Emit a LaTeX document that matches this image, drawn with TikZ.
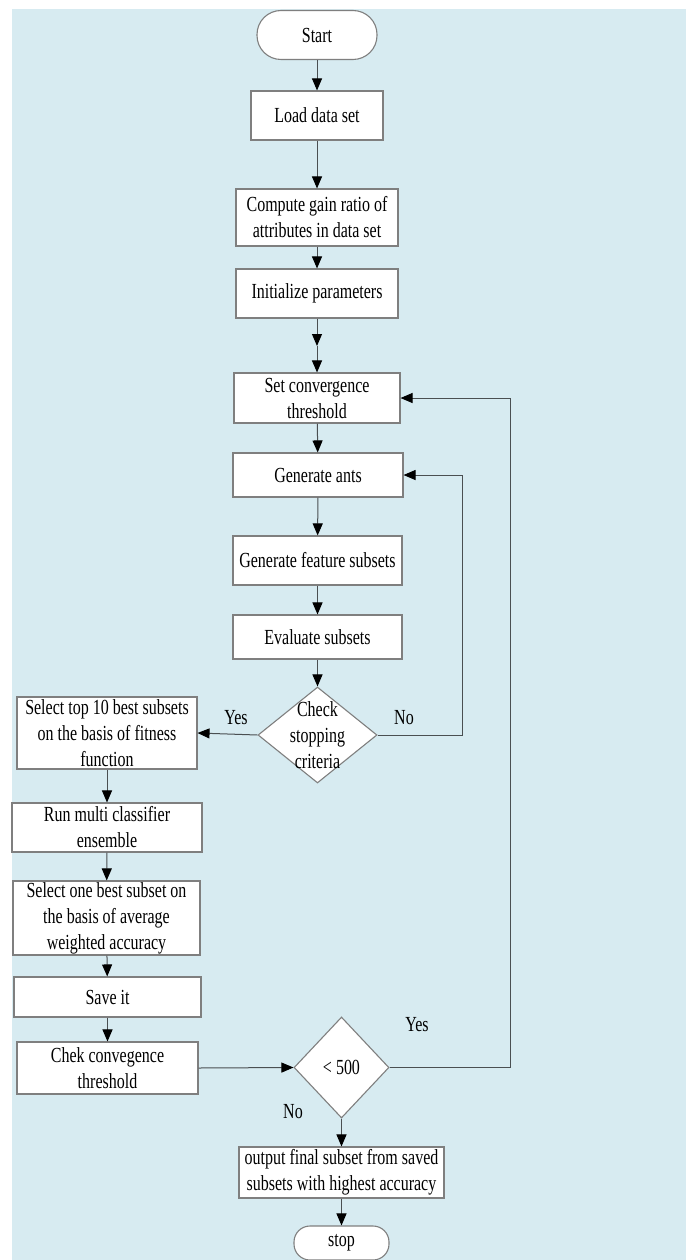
\documentclass[tikz,border=0pt]{standalone}
\usepackage{fontspec}
\setmainfont{Liberation Serif}[FakeStretch=0.744]
\usetikzlibrary{arrows.meta,shapes.geometric}
\definecolor{bgblue}{HTML}{D7EBF1}
\definecolor{boxline}{HTML}{7F7F7F}
\definecolor{conn}{HTML}{4A4F52}
\tikzset{
  txt/.style={font=\fontsize{21.5}{26}\selectfont, text=black, align=center},
  box/.style={txt, draw=boxline, line width=1.1pt, fill=white, inner sep=0pt},
  term/.style={box, rounded corners=16pt},
  dia/.style={draw=boxline, line width=1.1pt, fill=white, diamond, inner sep=0pt},
  arr/.style={draw=conn, line width=1pt, -{Triangle[width=10pt,length=12pt,color=black]}},
  lbl/.style={txt}
}
\begin{document}
\begin{tikzpicture}[x=1pt,y=-1pt]
\useasboundingbox (0,0) rectangle (688,1260);
\fill[white] (0,0) rectangle (688,1260);
\fill[bgblue] (12,9) rectangle (686,1260);

\node[term, rounded corners=24pt, minimum width=120pt, minimum height=49pt] (start) at (317,35) {Start};
\node[box, minimum width=132pt, minimum height=49pt] (load) at (317,115.5) {Load data set};
\node[box, minimum width=162pt, minimum height=57pt] (gain) at (317,217.5) {Compute gain ratio of\\attributes in data set};
\node[box, minimum width=162pt, minimum height=49pt] (init) at (317,293.5) {Initialize parameters};
\coordinate (mid) at (317,346);
\node[box, minimum width=166pt, minimum height=50pt] (setc) at (317,398) {Set convergence\\threshold};
\node[box, minimum width=170pt, minimum height=44pt] (ants) at (318,475) {Generate ants};
\node[box, minimum width=169pt, minimum height=49pt] (feat) at (317.5,560.5) {Generate feature subsets};
\node[box, minimum width=169pt, minimum height=44pt] (eval) at (317.5,637) {Evaluate subsets};
\node[dia, minimum width=119pt, minimum height=96pt] (check) at (317.5,735) {};
\node[txt] (checkT) at (317.5,735) {Check\\stopping\\criteria};
\node[box, minimum width=180pt, minimum height=72pt] (sel10) at (107,733) {Select top 10 best subsets\\on the basis of fitness\\function};
\node[box, minimum width=190pt, minimum height=49pt] (run) at (107,827.5) {Run multi classifier\\ensemble};
\node[box, minimum width=187pt, minimum height=74pt] (sel1) at (106.5,918) {Select one best subset on\\the basis of average\\weighted accuracy};
\node[box, minimum width=187pt, minimum height=40pt] (save) at (107.5,997) {Save it};
\node[box, minimum width=181pt, minimum height=52pt] (chek) at (107.5,1068) {Chek convegence\\threshold};
\node[dia, minimum width=95pt, minimum height=101pt] (lt) at (341.5,1067.5) {};
\node[txt] (ltT) at (341.5,1067.5) {< 500};
\node[box, minimum width=205pt, minimum height=51pt] (out) at (341.5,1172.5) {output final subset from saved\\subsets with highest accuracy};
\node[term, minimum width=95pt, minimum height=34pt] (stop) at (341.5,1243) {stop};

\node[lbl] (yes1) at (236,718) {Yes};
\node[lbl] (no1) at (404,718) {No};
\node[lbl] (yes2) at (417,1025) {Yes};
\node[lbl] (no2) at (293,1112) {No};

\coordinate (c1) at (462,475);
\coordinate (c2) at (510,398);

\draw[arr] (start) -- (load);
\draw[arr] (load) -- (gain);
\draw[arr] (gain) -- (init);
\draw[arr] (init) -- (mid);
\draw[arr] (mid) -- (setc);
\draw[arr] (setc) -- (ants);
\draw[arr] (ants) -- (feat);
\draw[arr] (feat) -- (eval);
\draw[arr] (eval) -- (check);
\draw[arr] (check.west) -- (sel10.east);
\draw[arr] (check.east) -| (c1) -- (ants.east);
\draw[arr] (sel10) -- (run);
\draw[arr] (run) -- (sel1);
\draw[arr] (sel1) -- (save);
\draw[arr] (save) -- (chek);
\draw[arr] (chek.east) -- (lt.west);
\draw[arr] (lt.east) -| (c2) -- (setc.east);
\draw[arr] (lt.south) -- (out);
\draw[arr] (out) -- (stop);
\end{tikzpicture}
\end{document}
